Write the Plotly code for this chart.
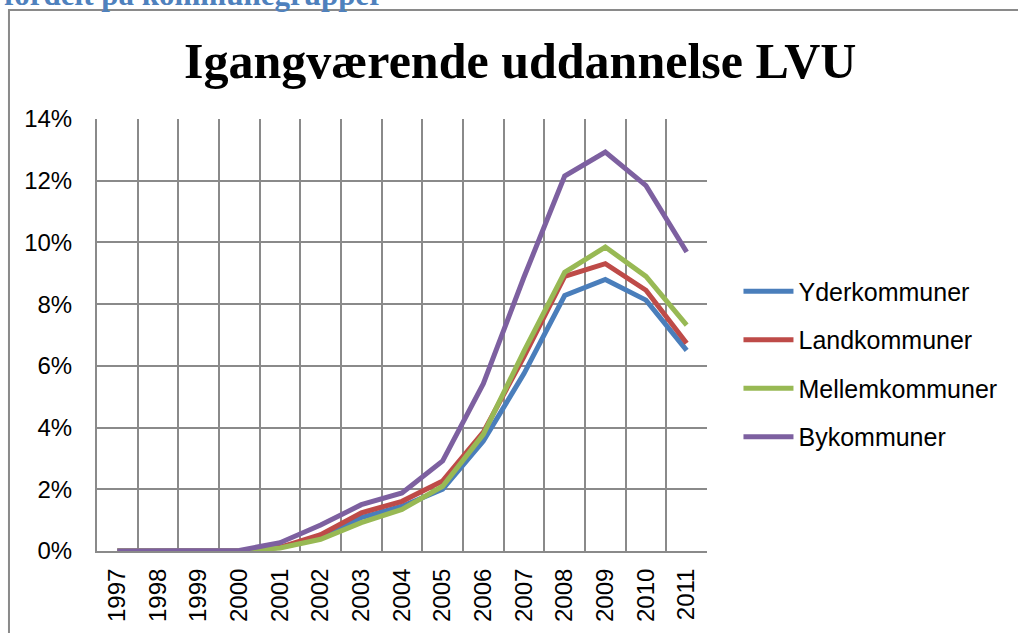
import plotly.graph_objects as go

# years on the x axis
years = [str(y) for y in range(1997, 2012)]

# share in ongoing long higher education (LVU), percent
yderkommuner = [0, 0, 0, 0, 0.12, 0.46, 1.08, 1.45, 2.0, 3.56, 5.75, 8.28, 8.8, 8.13, 6.5]
landkommuner = [0, 0, 0, 0, 0.12, 0.53, 1.24, 1.61, 2.27, 3.85, 6.3, 8.9, 9.31, 8.45, 6.73]
mellemkommuner = [0, 0, 0, 0, 0.1, 0.38, 0.92, 1.35, 2.1, 3.78, 6.48, 9.03, 9.85, 8.9, 7.32]
bykommuner = [0, 0, 0, 0.02, 0.27, 0.84, 1.5, 1.88, 2.92, 5.42, 8.88, 12.15, 12.93, 11.84, 9.69]

series = [
    ("Yderkommuner", yderkommuner, "#4A7EBB"),
    ("Landkommuner", landkommuner, "#BE4B48"),
    ("Mellemkommuner", mellemkommuner, "#98B954"),
    ("Bykommuner", bykommuner, "#7D60A0"),
]

fig = go.Figure()
for name, vals, color in series:
    fig.add_trace(go.Scatter(x=years, y=[v / 100 for v in vals], mode="lines", name=name,
                             legendgroup=name, line=dict(color=color, width=5)))

tick_font = dict(family="Liberation Sans, Arial, sans-serif", size=24, color="#000000")
legend_font = dict(family="Liberation Sans, Arial, sans-serif", size=25, color="#000000")

fig.update_layout(
    width=1018, height=633,
    margin=dict(l=97, r=311, t=119, b=82, autoexpand=False),
    paper_bgcolor="white", plot_bgcolor="white",
    showlegend=True,
    legend=dict(x=1.0516, y=0.433, xanchor="left", yanchor="middle",
                font=legend_font, itemwidth=50, tracegroupgap=13,
                bgcolor="rgba(0,0,0,0)"),
    xaxis=dict(type="category", tickson="boundaries", range=[-0.5, 14.5], automargin=False,
               showgrid=True, gridcolor="#8a8a8a", gridwidth=2,
               showline=True, linecolor="#8a8a8a", linewidth=2,
               tickangle=-90, tickfont=tick_font, ticks="", ticklabelstandoff=6),
    yaxis=dict(range=[0, 0.14], dtick=0.02, tickformat=".0%", automargin=False,
               showgrid=True, gridcolor="#8a8a8a", gridwidth=2,
               showline=True, linecolor="#8a8a8a", linewidth=2, zeroline=False,
               tickfont=tick_font, ticks="", ticklabelstandoff=18),
)

fig.add_annotation(text="<b>Igangværende uddannelse LVU</b>", xref="paper", yref="paper",
                   x=0.693, y=1.134, xanchor="center", yanchor="middle", showarrow=False,
                   font=dict(family="Liberation Serif, DejaVu Serif, serif", size=50, color="#000000"))

fig.add_annotation(text="<b>fordelt på kommunegrupper</b>", xref="paper", yref="paper",
                   x=-0.156, y=1.288, xanchor="left", yanchor="middle", showarrow=False,
                   font=dict(family="Liberation Serif, DejaVu Serif, serif", size=31, color="#4F81BD"))

# outer chart frame (runs off the right and bottom edges)
fig.add_shape(type="rect", xref="paper", yref="paper", x0=-0.1443, x1=1.6, y0=-0.3, y1=1.2523,
              line=dict(color="#8a8a8a", width=2), layer="below")

# drop the default page margin so the chart sits flush in the window
fig.write_html("out.html", config={"displayModeBar": False},
               post_script="document.body.style.margin='0';")
